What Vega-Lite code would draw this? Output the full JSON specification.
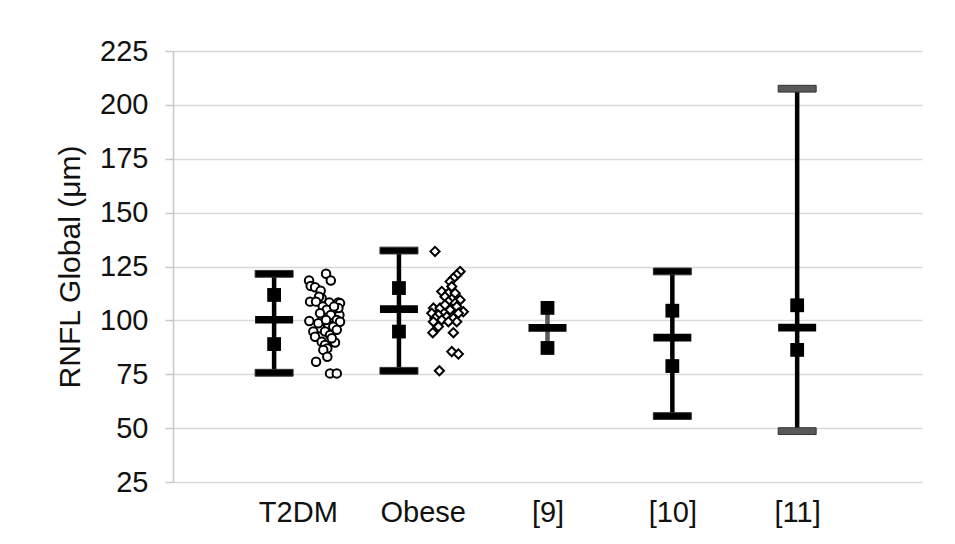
{
  "$schema": "https://vega.github.io/schema/vega-lite/v6.json",
  "autosize": {"type": "none"},
  "padding": {"left": 173, "top": 51, "right": 33, "bottom": 62},
  "width": 749,
  "height": 431,
  "background": "white",
  "config": {
    "font": "Liberation Sans",
    "view": {"stroke": null}
  },
  "datasets": {
    "summary": [
      {"g": "T2DM", "x": 0.81, "lo": 75.7, "q1": 89.0, "mean": 100.3, "q3": 111.8, "hi": 121.6},
      {"g": "Obese", "x": 1.81, "lo": 76.6, "q1": 94.8, "mean": 105.2, "q3": 115.0, "hi": 132.4},
      {"g": "[9]", "x": 3, "lo": 87.2, "q1": 87.2, "mean": 96.5, "q3": 105.8, "hi": 105.8},
      {"g": "[10]", "x": 4, "lo": 55.6, "q1": 78.8, "mean": 92.0, "q3": 104.5, "hi": 122.7},
      {"g": "[11]", "x": 5, "lo": 48.6, "q1": 86.3, "mean": 96.6, "q3": 107.0, "hi": 207.5}
    ],
    "t2dm": [
      {"x": 1.226, "v": 121.6}, {"x": 1.264, "v": 118.5}, {"x": 1.090, "v": 118.5}, {"x": 1.103, "v": 116},
      {"x": 1.138, "v": 115.4}, {"x": 1.183, "v": 113.8}, {"x": 1.191, "v": 110.3}, {"x": 1.170, "v": 111},
      {"x": 1.098, "v": 108.7}, {"x": 1.146, "v": 108.7}, {"x": 1.252, "v": 108.3}, {"x": 1.325, "v": 108.3},
      {"x": 1.200, "v": 106.4}, {"x": 1.232, "v": 104.9}, {"x": 1.298, "v": 104}, {"x": 1.333, "v": 102.5},
      {"x": 1.264, "v": 102.5}, {"x": 1.312, "v": 100.2}, {"x": 1.092, "v": 99.7}, {"x": 1.338, "v": 99.4},
      {"x": 1.244, "v": 97.9}, {"x": 1.284, "v": 97.1}, {"x": 1.178, "v": 96.3}, {"x": 1.218, "v": 94.8},
      {"x": 1.124, "v": 94.8}, {"x": 1.138, "v": 92.4}, {"x": 1.258, "v": 93.2}, {"x": 1.191, "v": 90.1},
      {"x": 1.298, "v": 89.7}, {"x": 1.218, "v": 88.6}, {"x": 1.236, "v": 87}, {"x": 1.204, "v": 86.3},
      {"x": 1.236, "v": 83.1}, {"x": 1.146, "v": 80.8}, {"x": 1.258, "v": 75.4}, {"x": 1.312, "v": 75.4},
      {"x": 1.338, "v": 108}, {"x": 1.325, "v": 105.7}, {"x": 1.290, "v": 106.4}, {"x": 1.164, "v": 98.7},
      {"x": 1.178, "v": 103.3}, {"x": 1.226, "v": 100.2}, {"x": 1.272, "v": 91.7}, {"x": 1.312, "v": 95.6}
    ],
    "obese": [
      {"x": 2.099, "v": 132}, {"x": 2.300, "v": 122.7}, {"x": 2.273, "v": 121.1}, {"x": 2.246, "v": 119.6},
      {"x": 2.220, "v": 118}, {"x": 2.233, "v": 115.7}, {"x": 2.153, "v": 113.4}, {"x": 2.206, "v": 112.6},
      {"x": 2.260, "v": 112.6}, {"x": 2.179, "v": 111}, {"x": 2.300, "v": 109.5}, {"x": 2.206, "v": 108.7},
      {"x": 2.260, "v": 108}, {"x": 2.086, "v": 105.7}, {"x": 2.139, "v": 105.7}, {"x": 2.273, "v": 106.4},
      {"x": 2.220, "v": 104.9}, {"x": 2.326, "v": 104}, {"x": 2.286, "v": 103.3}, {"x": 2.073, "v": 103.3},
      {"x": 2.126, "v": 102.5}, {"x": 2.099, "v": 101}, {"x": 2.193, "v": 101.7}, {"x": 2.246, "v": 101},
      {"x": 2.153, "v": 100.2}, {"x": 2.273, "v": 99.4}, {"x": 2.086, "v": 99.4}, {"x": 2.206, "v": 99.4},
      {"x": 2.081, "v": 94.3}, {"x": 2.246, "v": 94.3}, {"x": 2.233, "v": 85.5}, {"x": 2.286, "v": 84.4},
      {"x": 2.134, "v": 76.6}, {"x": 2.179, "v": 107.2}, {"x": 2.126, "v": 97.1}
    ]
  },
  "encoding": {
    "x": {
      "field": "x", "type": "quantitative",
      "scale": {"domain": [0, 6], "nice": false, "zero": false},
      "axis": {
        "title": null, "domain": false, "ticks": false, "grid": false,
        "values": [1, 2, 3, 4, 5],
        "labelExpr": "['', 'T2DM', 'Obese', '[9]', '[10]', '[11]'][datum.value]",
        "labelFontSize": 29, "labelColor": "#111111", "labelPadding": 16
      }
    }
  },
  "layer": [
    {
      "data": {"name": "summary"},
      "mark": {"type": "rule", "strokeWidth": 4.5},
      "encoding": {
        "y": {
          "field": "lo", "type": "quantitative",
          "scale": {"domain": [25, 225], "nice": false, "zero": false},
          "axis": {
            "title": "RNFL Global (μm)", "titleFontSize": 30, "titleFontWeight": "normal", "titleColor": "#111111",
            "titlePadding": 14,
            "values": [25, 50, 75, 100, 125, 150, 175, 200, 225],
            "labelFontSize": 29, "labelColor": "#111111", "labelPadding": 17,
            "tickSize": 8, "tickColor": "#c8c8c8", "tickWidth": 1.5,
            "domainColor": "#c8c8c8", "domainWidth": 1.5,
            "gridColor": "#d9d9d9", "gridWidth": 1.5
          }
        },
        "y2": {"field": "hi"},
        "color": {"condition": {"test": "datum.g === '[9]'", "value": "#595959"}, "value": "#000000"}
      }
    },
    {
      "data": {"name": "summary"},
      "transform": [
        {"filter": "datum.g !== '[9]'"},
        {"fold": ["lo", "hi"], "as": ["stat", "val"]}
      ],
      "mark": {"type": "tick", "orient": "horizontal", "size": 38, "thickness": 6.8, "opacity": 1, "strokeWidth": 1, "stroke": "#333333"},
      "encoding": {
        "y": {"field": "val", "type": "quantitative"},
        "color": {"condition": {"test": "datum.g === '[11]'", "value": "#595959"}, "value": "#000000"}
      }
    },
    {
      "data": {"name": "summary"},
      "mark": {"type": "tick", "orient": "horizontal", "size": 38, "thickness": 7.7, "opacity": 1, "color": "#000000"},
      "encoding": {
        "y": {"field": "mean", "type": "quantitative"}
      }
    },
    {
      "data": {"name": "summary"},
      "transform": [{"fold": ["q1", "q3"], "as": ["stat", "val"]}],
      "mark": {"type": "point", "shape": "square", "filled": true, "size": 190, "opacity": 1, "color": "#000000"},
      "encoding": {
        "y": {"field": "val", "type": "quantitative"}
      }
    },
    {
      "data": {"name": "t2dm"},
      "mark": {"type": "point", "shape": "circle", "filled": false, "fill": "white", "stroke": "#000000", "strokeWidth": 2, "size": 72, "opacity": 1},
      "encoding": {
        "y": {"field": "v", "type": "quantitative"}
      }
    },
    {
      "data": {"name": "obese"},
      "mark": {"type": "point", "shape": "diamond", "filled": false, "fill": "white", "stroke": "#000000", "strokeWidth": 2, "size": 85, "opacity": 1},
      "encoding": {
        "y": {"field": "v", "type": "quantitative"}
      }
    }
  ]
}
